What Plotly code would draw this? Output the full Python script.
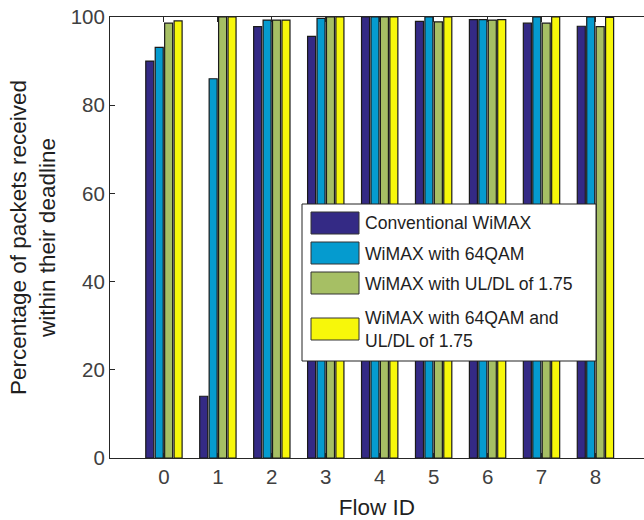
import plotly.graph_objects as go

flow_ids = [0, 1, 2, 3, 4, 5, 6, 7, 8]
series_names = [
    "Conventional WiMAX",
    "WiMAX with 64QAM",
    "WiMAX with UL/DL of 1.75",
    "WiMAX with 64QAM and<br>UL/DL of 1.75",
]
conventional = [90.0, 14.0, 97.8, 95.6, 100, 99.0, 99.4, 98.6, 97.9]
qam64 = [93.1, 86.0, 99.3, 99.7, 100, 100, 99.4, 100, 100]
uldl = [98.6, 100, 99.3, 100, 100, 98.9, 99.3, 98.6, 97.8]
qam64_uldl = [99.1, 100, 99.3, 100, 100, 100, 99.4, 100, 99.9]
colors = ["#342A85", "#059BCF", "#A6BF64", "#F7F70A"]
y_ticks = [0, 20, 40, 60, 80, 100]

fig = go.Figure()
for name, vals, col in zip(series_names, [conventional, qam64, uldl, qam64_uldl], colors):
    fig.add_trace(go.Bar(x=flow_ids, y=vals, name=name,
                         marker=dict(color=col, line=dict(color="#1a1a1a", width=1.2)),
                         showlegend=False))

# custom MATLAB-like legend (paper coordinates)
L, T, W, H = 110, 17, 534, 441
def px(x):
    return (x - L) / W
def py(y):
    return (T + H - y) / H

shapes = [dict(type="rect", xref="paper", yref="paper", x0=px(302), x1=px(596),
               y0=py(361), y1=py(204), fillcolor="white", line=dict(color="#222", width=1), layer="above")]
annotations = []
patch_rows = [(212, 234, 223), (242, 264, 254), (272, 294, 284), (318, 340, 329)]
for (y0, y1, yc), name, col in zip(patch_rows, series_names, colors):
    shapes.append(dict(type="rect", xref="paper", yref="paper", x0=px(311), x1=px(359),
                       y0=py(y1), y1=py(y0), fillcolor=col, line=dict(color="#333", width=1), layer="above"))
    annotations.append(dict(xref="paper", yref="paper", x=px(363), y=py(yc), text=name,
                            showarrow=False, xanchor="left", yanchor="middle", align="left",
                            font=dict(family="Liberation Sans, Arial", size=17.6, color="#1f1f1f")))

fig.update_layout(
    width=644, height=520,
    margin=dict(l=L, r=0, t=T, b=520 - T - H),
    paper_bgcolor="white", plot_bgcolor="white",
    barmode="group", bargap=0.3, bargroupgap=0.15,
    font=dict(family="Liberation Sans, Arial", color="#262626"),
    shapes=shapes, annotations=annotations,
    xaxis=dict(range=[-1, 8.9], tickvals=flow_ids, ticktext=[str(v) for v in flow_ids],
               showline=True, linecolor="#262626", linewidth=1, mirror="ticks",
               ticks="inside", ticklen=5, tickcolor="#262626", showgrid=False, zeroline=False,
               tickfont=dict(size=20.5, color="#404040"),
               title=dict(text="Flow ID", font=dict(size=22.5, color="#1f1f1f"), standoff=12)),
    yaxis=dict(range=[0, 100], tickvals=y_ticks, showline=True, linecolor="#262626", linewidth=1,
               ticks="inside", ticklen=5, tickcolor="#262626", showgrid=False, zeroline=False,
               tickfont=dict(size=20.5, color="#404040"),
               title=dict(text="Percentage of packets received<br>within their deadline",
                          font=dict(size=22.5, color="#1f1f1f"), standoff=8)),
)

fig.write_html("out.html")
